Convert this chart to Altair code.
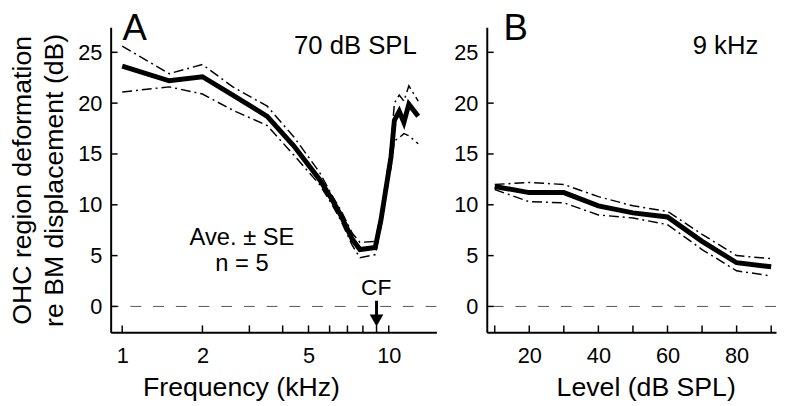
import altair as alt
import pandas as pd

# ---------------- data ----------------
freq = [1.0, 1.5, 2.0, 2.6, 3.5, 4.4, 5.5, 6.1, 6.6, 7.3, 7.8, 8.9, 9.35, 9.75, 10.2, 10.5, 10.95, 11.4, 11.9, 12.9]
mean_a = [23.65, 22.2, 22.6, 20.8, 18.7, 15.8, 12.5, 10.6, 9.0, 6.6, 5.6, 5.8, 8.5, 11.5, 14.7, 18.3, 19.2, 18.1, 19.9, 18.7]
upper_a = [25.6, 22.9, 23.8, 21.6, 19.7, 16.7, 13.2, 11.0, 9.5, 7.2, 6.3, 6.4, 9.2, 12.3, 15.8, 20.0, 20.8, 20.2, 21.7, 20.2]
lower_a = [21.1, 21.6, 20.9, 19.3, 17.8, 14.9, 12.0, 10.1, 8.5, 6.0, 4.8, 5.1, 7.8, 10.8, 13.7, 16.3, 16.6, 17.0, 16.8, 16.0]

level = [10, 20, 30, 40, 50, 60, 70, 80, 90]
mean_b = [11.8, 11.2, 11.2, 9.9, 9.2, 8.8, 6.4, 4.3, 3.9]
upper_b = [12.0, 12.2, 12.0, 10.8, 9.9, 9.35, 7.1, 5.0, 4.7]
lower_b = [11.5, 10.3, 10.2, 9.0, 8.7, 8.05, 5.6, 3.5, 3.0]

y_labels = [0, 5, 10, 15, 20, 25]
freq_labels = [1, 2, 5, 10]
freq_ticks = [1, 2, 3, 4, 5, 6, 7, 8, 9, 10]
level_labels = [20, 40, 60, 80]
level_ticks = [10, 20, 30, 40, 50, 60, 70, 80, 90]
cf_freq = 9

FONT = "Liberation Sans"
H = 309
W_A = 330
W_B = 293
Y_DOMAIN = [-2.55, 27.46]


def se_frame(x, upper, lower):
    rows = []
    for xi, u in zip(x, upper):
        rows.append({"x": xi, "y": u, "s": "upper"})
    for xi, l in zip(x, lower):
        rows.append({"x": xi, "y": l, "s": "lower"})
    return pd.DataFrame(rows)


def panel(x, mean, upper, lower, xscale, xaxis, yaxis, width, xticks, texts):
    yscale = alt.Scale(domain=Y_DOMAIN, nice=False, zero=False)
    X = lambda: alt.X("x:Q", scale=xscale, axis=xaxis)
    Y = lambda: alt.Y("y:Q", scale=yscale, axis=yaxis)

    zero = alt.Chart(pd.DataFrame({"y": [0]})).mark_rule(
        color="#555555", strokeWidth=1, strokeDash=[11, 12]
    ).encode(y=Y())

    se = alt.Chart(se_frame(x, upper, lower)).mark_line(
        color="black", strokeWidth=1.5, strokeDash=[10, 4, 2, 4], clip=True
    ).encode(x=X(), y=Y(), detail="s:N", order="x:Q")

    m = alt.Chart(pd.DataFrame({"x": x, "y": mean})).mark_line(
        color="black", strokeWidth=5, clip=True, strokeJoin="miter"
    ).encode(x=X(), y=Y())

    xt = alt.Chart(pd.DataFrame({"x": xticks})).mark_rule(
        color="black", strokeWidth=1.5
    ).encode(x=X(), y=alt.value(H), y2=alt.value(H - 7))

    yt = alt.Chart(pd.DataFrame({"y": y_labels})).mark_rule(
        color="black", strokeWidth=1.5
    ).encode(y=Y(), x=alt.value(0), x2=alt.value(7))

    layers = [zero, se, m, xt, yt] + texts
    return alt.layer(*layers).properties(width=width, height=H)


def label(text, x, y, size, align="left"):
    return alt.Chart(pd.DataFrame({"t": [text]})).mark_text(
        font=FONT, fontSize=size, align=align, baseline="alphabetic", color="black"
    ).encode(x=alt.value(x), y=alt.value(y), text="t:N")


axis_common = dict(
    labelFont=FONT, titleFont=FONT, labelFontSize=22, titleFontSize=27,
    titleFontWeight="normal", labelColor="black", titleColor="black",
    domainColor="black", domainWidth=2, ticks=False, tickSize=0, grid=False,
)

yaxis_a = alt.Axis(
    values=y_labels, labelPadding=9,
    title=["OHC region deformation", "re BM displacement (dB)"],
    titlePadding=9, titleLineHeight=33, **axis_common,
)
yaxis_b = alt.Axis(values=y_labels, labelPadding=9, title=None, **axis_common)

xaxis_a = alt.Axis(values=freq_labels, labelPadding=14, title="Frequency (kHz)",
                   titlePadding=8, titleX=132, titleAlign="center",
                   format="d", labelFlush=False, **axis_common)
xaxis_b = alt.Axis(values=level_labels, labelPadding=14, title="Level (dB SPL)",
                   titlePadding=8, titleX=161, titleAlign="center",
                   format="d", labelFlush=False, **axis_common)

xscale_a = alt.Scale(type="log", domain=[0.905, 15.1], nice=False)
xscale_b = alt.Scale(domain=[7.7, 91.4], nice=False, zero=False)

# CF arrow (through the x scale)
cf_shaft = alt.Chart(pd.DataFrame({"x": [cf_freq]})).mark_rule(
    color="black", strokeWidth=3
).encode(x=alt.X("x:Q", scale=xscale_a, axis=xaxis_a), y=alt.value(277), y2=alt.value(295))
cf_head = alt.Chart(pd.DataFrame({"x": [cf_freq]})).mark_point(
    shape="triangle-down", filled=True, color="black", size=190, opacity=1
).encode(x=alt.X("x:Q", scale=xscale_a, axis=xaxis_a), y=alt.value(297))

texts_a = [
    label("A", 12, 13, 37),
    label("70 dB SPL", 310, 27, 26, "right"),
    label("Ave. ± SE", 133, 221, 24, "center"),
    label("n = 5", 133, 247, 24, "center"),
    label("CF", 269, 271, 23, "center"),
    cf_shaft, cf_head,
]
texts_b = [
    label("B", 17, 13, 37),
    label("9 kHz", 275, 27, 26, "right"),
]

pa = panel(freq, mean_a, upper_a, lower_a, xscale_a, xaxis_a, yaxis_a, W_A, freq_ticks, texts_a)
pb = panel(level, mean_b, upper_b, lower_b, xscale_b, xaxis_b, yaxis_b, W_B, level_ticks, texts_b)

chart = alt.hconcat(pa, pb, spacing=16).properties(
    padding={"left": 0, "top": 0, "right": 0, "bottom": 0}
).configure_view(stroke=None)

chart.save("out.html", embed_options={"renderer": "svg", "actions": False})
